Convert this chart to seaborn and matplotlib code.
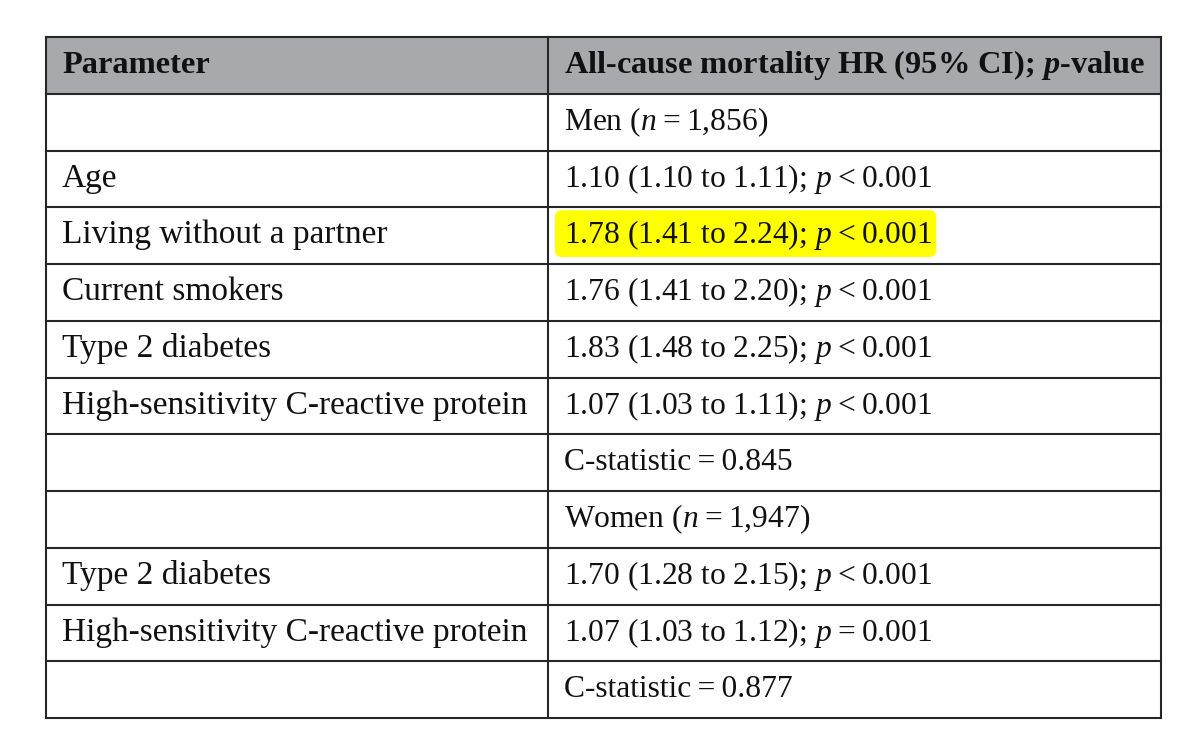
import matplotlib
matplotlib.use("Agg")
import matplotlib.pyplot as plt
from matplotlib.patches import Rectangle, FancyBboxPatch
import seaborn as sns

sns.set_theme(style="white")
plt.rcParams['font.family'] = ['Liberation Serif', 'DejaVu Serif']
plt.rcParams['mathtext.fontset'] = 'custom'
plt.rcParams['mathtext.rm'] = 'Liberation Serif'
plt.rcParams['mathtext.it'] = 'Liberation Serif:italic'
plt.rcParams['mathtext.bf'] = 'Liberation Serif:bold:italic'

T = "\u2009"  # thin space

# ---- data ----
header = ["Parameter", r"All-cause mortality HR (95% CI); $\mathbf{p}$-value"]
parameters = ["", "Age", "Living without a partner", "Current smokers",
              "Type 2 diabetes", "High-sensitivity C-reactive protein", "",
              "", "Type 2 diabetes", "High-sensitivity C-reactive protein", ""]
hr_values = [f"Men ($n${T}={T}1,856)",
             f"1.10 (1.10 to 1.11); $p${T}<{T}0.001",
             f"1.78 (1.41 to 2.24); $p${T}<{T}0.001",
             f"1.76 (1.41 to 2.20); $p${T}<{T}0.001",
             f"1.83 (1.48 to 2.25); $p${T}<{T}0.001",
             f"1.07 (1.03 to 1.11); $p${T}<{T}0.001",
             f"C-statistic{T}={T}0.845",
             f"Women ($n${T}={T}1,947)",
             f"1.70 (1.28 to 2.15); $p${T}<{T}0.001",
             f"1.07 (1.03 to 1.12); $p${T}={T}0.001",
             f"C-statistic{T}={T}0.877"]
highlight_row = 2

W, H = 1200, 756
fig = plt.figure(figsize=(12, 7.56), dpi=100)
fig.patch.set_facecolor("white")
left, right, top, bottom = 46, 1161, 37, 718
ax = fig.add_axes([left / W, 1 - bottom / H, (right - left) / W, (bottom - top) / H])
ncol_split = (548 - left) / (right - left)
nrows = len(parameters) + 1
ax.set_xlim(0, 1)
ax.set_ylim(nrows, 0)
ax.axis("off")

line_c = "#262626"
lw = 1.5
fs = 24
fs_val = 22.7
fs_head = 23.3
text_c = "#111111"
base_off = 0.635  # baseline position within a row
px_w = right - left
rh = (bottom - top) / nrows

# header background
ax.add_patch(Rectangle((0, 0), 1, 1, facecolor="#a7a9ac", edgecolor="none", zorder=0))

# grid lines
for i in range(nrows + 1):
    ax.plot([0, 1], [i, i], color=line_c, lw=lw, zorder=3, solid_capstyle="projecting", clip_on=False)
for x in (0, ncol_split, 1):
    ax.plot([x, x], [0, nrows], color=line_c, lw=lw, zorder=3, solid_capstyle="projecting", clip_on=False)

tx0 = (62 - left) / px_w
tx1 = (564 - left) / px_w
ax.text(tx0, base_off, header[0], fontsize=fs_head, fontweight="bold", va="baseline", ha="left", color=text_c, zorder=4)
ax.text(tx1, base_off, header[1], fontsize=fs_head, fontweight="bold", va="baseline", ha="left", color=text_c, zorder=4)
val_texts = []
for i, (p, v) in enumerate(zip(parameters, hr_values)):
    y = i + 1 + base_off
    if p:
        ax.text(tx0, y, p, fontsize=fs, va="baseline", ha="left", color=text_c, zorder=4)
    val_texts.append(ax.text(tx1, y, v, fontsize=fs_val, va="baseline", ha="left", color=text_c, zorder=4))

# highlight box sized from the highlighted text
fig.canvas.draw()
bb = val_texts[highlight_row].get_window_extent(fig.canvas.get_renderer())
inv = ax.transData.inverted()
(x0d, _), (x1d, _) = inv.transform([(bb.x0, bb.y0), (bb.x1, bb.y1)])
hx0 = x0d - 9 / px_w
hx1 = x1d + 4 / px_w
r = highlight_row + 1
hy0 = r + 3 / rh
hy1 = r + 1 - 7 / rh
ax.add_patch(FancyBboxPatch((hx0, hy0), hx1 - hx0, hy1 - hy0,
                            boxstyle="round,pad=0,rounding_size=0.006",
                            mutation_aspect=px_w / rh,
                            facecolor="#ffff00", edgecolor="none", zorder=1))

fig.savefig("out.png", dpi=100, facecolor="white")
